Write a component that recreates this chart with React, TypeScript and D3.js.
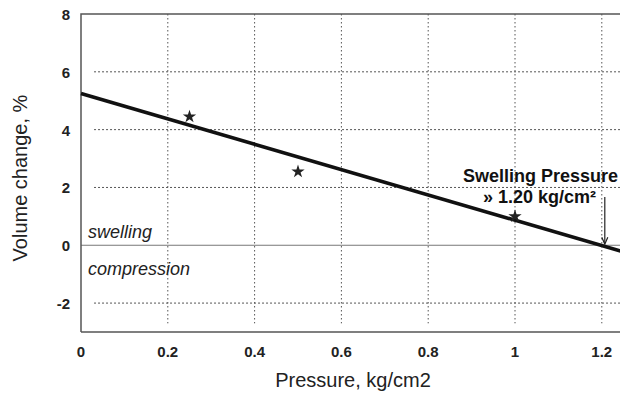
import React, { useEffect, useRef } from "react";
import * as d3 from "d3";

// measured points (pressure kg/cm2, volume change %)
const pressure = [0.25, 0.5, 1.0];
const volumeChange = [4.45, 2.55, 1.0];
// fitted line end points
const fitPressure = [0, 1.3];
const fitVolume = [5.25, -0.45];
const xTicks = [0, 0.2, 0.4, 0.6, 0.8, 1, 1.2];
const yTicks = [-2, 0, 2, 4, 6, 8];
const swellingPressure = 1.2;

const FONT = "Arial, 'Liberation Sans', sans-serif";

function App() {
  const ref = useRef<SVGSVGElement>(null);

  useEffect(() => {
    const svg = d3.select(ref.current);
    svg.selectAll("*").remove();
    const width = 620;
    const height = 398;
    const margin = { top: 14, left: 81, bottom: 66 };

    const x = d3.scaleLinear().domain([0, 1.4]).range([margin.left, margin.left + 1.4 * 434]);
    const y = d3.scaleLinear().domain([-3, 8]).range([height - margin.bottom, margin.top]);

    svg.append("rect").attr("width", width).attr("height", height).attr("fill", "#fff");

    //grid
    svg
      .append("g")
      .selectAll("line")
      .data(xTicks.filter((d) => d > 0))
      .enter()
      .append("line")
      .attr("x1", (d) => x(d))
      .attr("x2", (d) => x(d))
      .attr("y1", y(8))
      .attr("y2", y(-2.7))
      .attr("stroke", "#555")
      .attr("stroke-width", 1)
      .attr("stroke-dasharray", "1.5,2.5");

    svg
      .append("g")
      .selectAll("line")
      .data(yTicks.filter((d) => d !== 0 && d !== 8))
      .enter()
      .append("line")
      .attr("x1", x(0.03))
      .attr("x2", width)
      .attr("y1", (d) => y(d))
      .attr("y2", (d) => y(d))
      .attr("stroke", "#555")
      .attr("stroke-width", 1)
      .attr("stroke-dasharray", "2,2");

    // zero line
    svg
      .append("line")
      .attr("x1", x(0))
      .attr("x2", width)
      .attr("y1", y(0))
      .attr("y2", y(0))
      .attr("stroke", "#777")
      .attr("stroke-width", 1.2);

    // frame
    svg
      .append("path")
      .attr("d", `M${x(0)},${y(-3)}V${y(8)}H${width}`)
      .attr("fill", "none")
      .attr("stroke", "#555")
      .attr("stroke-width", 1.5);
    svg
      .append("line")
      .attr("x1", x(0))
      .attr("x2", width)
      .attr("y1", y(-3))
      .attr("y2", y(-3))
      .attr("stroke", "#555")
      .attr("stroke-width", 1.5);

    // tick labels
    svg
      .append("g")
      .selectAll("text")
      .data(xTicks)
      .enter()
      .append("text")
      .attr("x", (d) => x(d))
      .attr("y", y(-3) + 25)
      .attr("text-anchor", "middle")
      .attr("font-family", FONT)
      .attr("font-weight", "bold")
      .attr("font-size", 15)
      .attr("fill", "#222")
      .text((d) => String(d));

    svg
      .append("g")
      .selectAll("text")
      .data(yTicks)
      .enter()
      .append("text")
      .attr("x", 70)
      .attr("y", (d) => y(d) + 6)
      .attr("text-anchor", "end")
      .attr("font-family", FONT)
      .attr("font-weight", "bold")
      .attr("font-size", 15)
      .attr("fill", "#222")
      .text((d) => String(d));

    // axis titles
    svg
      .append("text")
      .attr("x", 353)
      .attr("y", 387)
      .attr("text-anchor", "middle")
      .attr("font-family", FONT)
      .attr("font-size", 20)
      .attr("fill", "#222")
      .text("Pressure, kg/cm2");

    svg
      .append("text")
      .attr("transform", `translate(27,178) rotate(-90)`)
      .attr("text-anchor", "middle")
      .attr("font-family", FONT)
      .attr("font-size", 20)
      .attr("fill", "#222")
      .text("Volume change, %");

    // swelling / compression labels
    const italic = (t: string, py: number) =>
      svg
        .append("text")
        .attr("x", 88)
        .attr("y", py)
        .attr("font-family", FONT)
        .attr("font-style", "italic")
        .attr("font-size", 18)
        .attr("fill", "#222")
        .text(t);
    italic("swelling", y(0) - 7);
    italic("compression", y(0) + 30);

    // fitted line
    const fit = fitPressure.map((p, i) => [p, fitVolume[i]] as [number, number]);
    svg
      .append("path")
      .attr("d", d3.line<[number, number]>().x((d) => x(d[0])).y((d) => y(d[1]))(fit))
      .attr("fill", "none")
      .attr("stroke", "#111")
      .attr("stroke-width", 3.6);

    // star markers
    const star = d3.symbol().type(d3.symbolStar).size(55);
    svg
      .append("g")
      .selectAll("path")
      .data(pressure.map((p, i) => [p, volumeChange[i]]))
      .enter()
      .append("path")
      .attr("transform", (d) => `translate(${x(d[0])},${y(d[1])})`)
      .attr("d", star)
      .attr("fill", "#222");

    // annotation
    svg
      .append("text")
      .attr("x", 463)
      .attr("y", 182)
      .attr("font-family", FONT)
      .attr("font-weight", "bold")
      .attr("font-size", 18)
      .attr("fill", "#111")
      .text("Swelling Pressure");
    svg
      .append("text")
      .attr("x", 483)
      .attr("y", 203)
      .attr("font-family", FONT)
      .attr("font-weight", "bold")
      .attr("font-size", 18)
      .attr("fill", "#111")
      .text("» 1.20 kg/cm²");

    const ax = x(swellingPressure) + 3;
    svg
      .append("line")
      .attr("x1", ax)
      .attr("x2", ax)
      .attr("y1", 197)
      .attr("y2", y(0) - 2)
      .attr("stroke", "#222")
      .attr("stroke-width", 1.2);
    svg
      .append("path")
      .attr("d", `M${ax - 3},${y(0) - 8}L${ax},${y(0) - 1}L${ax + 3},${y(0) - 8}`)
      .attr("fill", "none")
      .attr("stroke", "#222")
      .attr("stroke-width", 1.2);
  }, []);

  return (
    <div style={{ position: "fixed", left: 0, top: 0 }}>
      <svg ref={ref} width={620} height={398} style={{ display: "block" }} />
    </div>
  );
}

export default App;
